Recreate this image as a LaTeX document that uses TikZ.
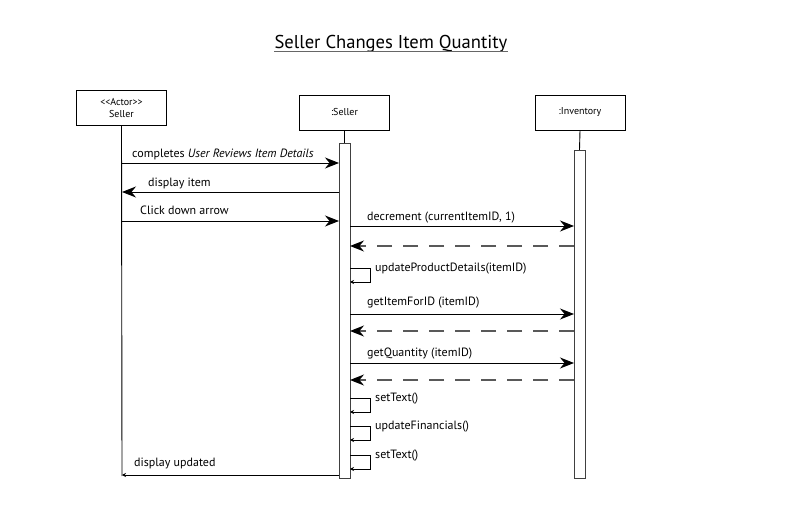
\documentclass[tikz,border=0pt]{standalone}
\usepackage{fontspec}
\setmainfont{PT Sans}
\usetikzlibrary{arrows.meta}
\begin{document}
\begin{tikzpicture}[x=1pt,y=-1pt,
  obj/.style={draw=black,line width=0.9pt,minimum width=90pt,minimum height=35pt,inner sep=0pt,font=\fontsize{10}{12}\selectfont,align=center},
  lbl/.style={anchor=base west,inner sep=0pt,font=\fontsize{12}{14}\selectfont},
  msg/.style={draw=black,line width=0.9pt,-{Stealth[length=14pt,width=11pt]}},
  ret/.style={draw=black!65,line width=1.2pt,dash pattern=on 15pt off 11pt,-{Stealth[length=14pt,width=11pt,color=black]}},
  selfm/.style={draw=black,line width=0.8pt,-{Stealth[length=4pt,width=4pt]}},
  life/.style={draw=black,line width=0.9pt},
  act/.style={draw=black!75,line width=1pt,fill=white}]
\useasboundingbox (0,0) rectangle (804,521);
% title
\node[inner sep=0pt,anchor=base,font=\fontsize{18.6}{20}\selectfont] (title) at (391,49) {Seller Changes Item Quantity};
\draw[black!60,line width=1pt] ([yshift=-3pt]title.base west) -- ([yshift=-3pt]title.base east);
% objects
\node[obj] (actor) at (121.5,108) {\textless{}\textless{}Actor\textgreater{}\textgreater{}\\Seller};
\node[obj] (seller) at (344.5,112.5) {:Seller};
\node[obj] (inv) at (580,112.5) {:Inventory};
% lifelines
\coordinate (aEnd) at (122,476);
\draw[life] (actor.south) -- (aEnd);
\draw[life] (seller.south) -- (344.5,143);
\draw[life] (inv.south) -- (579.5,150);
\node[act,minimum width=11pt,minimum height=335pt,inner sep=0pt,anchor=north] (sAct) at (344.5,143) {};
\node[act,minimum width=11pt,minimum height=328pt,inner sep=0pt,anchor=north] (iAct) at (579.5,150) {};
% coordinates on lifelines
\foreach \n/\y in {1/163,2/192,3/221,14/475}{\coordinate (a\n) at (122,\y); \coordinate (s\n) at (339,\y);}
\foreach \n/\y in {4/226,5/246,7/314,8/331,9/363,10/380}{\coordinate (r\n) at (350,\y); \coordinate (i\n) at (574,\y);}
% messages seller-actor
\draw[msg] (a1) -- (s1);
\node[lbl] (l1) at (132,158) {completes \textit{User Reviews Item Details}};
\draw[msg] (s2) -- (a2);
\node[lbl] (l2) at (148,187) {display item};
\draw[msg] (a3) -- (s3);
\node[lbl] (l3) at (140,215) {Click down arrow};
\draw[selfm,line width=0.9pt] (s14) -- (a14);
\node[lbl] (l14) at (134,467) {display updated};
% seller-inventory
\draw[msg] (r4) -- (i4);
\node[lbl] (l4) at (367,221) {decrement (currentItemID, 1)};
\draw[ret] (i5) -- (r5);
\draw[msg] (r7) -- (i7);
\node[lbl] (l7) at (367,306) {getItemForID (itemID)};
\draw[ret] (i8) -- (r8);
\draw[msg] (r9) -- (i9);
\node[lbl] (l9) at (367,357) {getQuantity (itemID)};
\draw[ret] (i10) -- (r10);
% self calls
\foreach \n/\y/\t in {6/268/{updateProductDetails(itemID)},11/398/{setText()},12/426/{updateFinancials()},13/455/{setText()}}{
  \coordinate (st\n) at (350,\y);
  \coordinate (sb\n) at (350,\y+14);
  \draw[selfm] (st\n) -- ++(20,0) |- (sb\n);
  \node[lbl] (l\n) at (375,\y+3.5) {\t};
}
\end{tikzpicture}
\end{document}
